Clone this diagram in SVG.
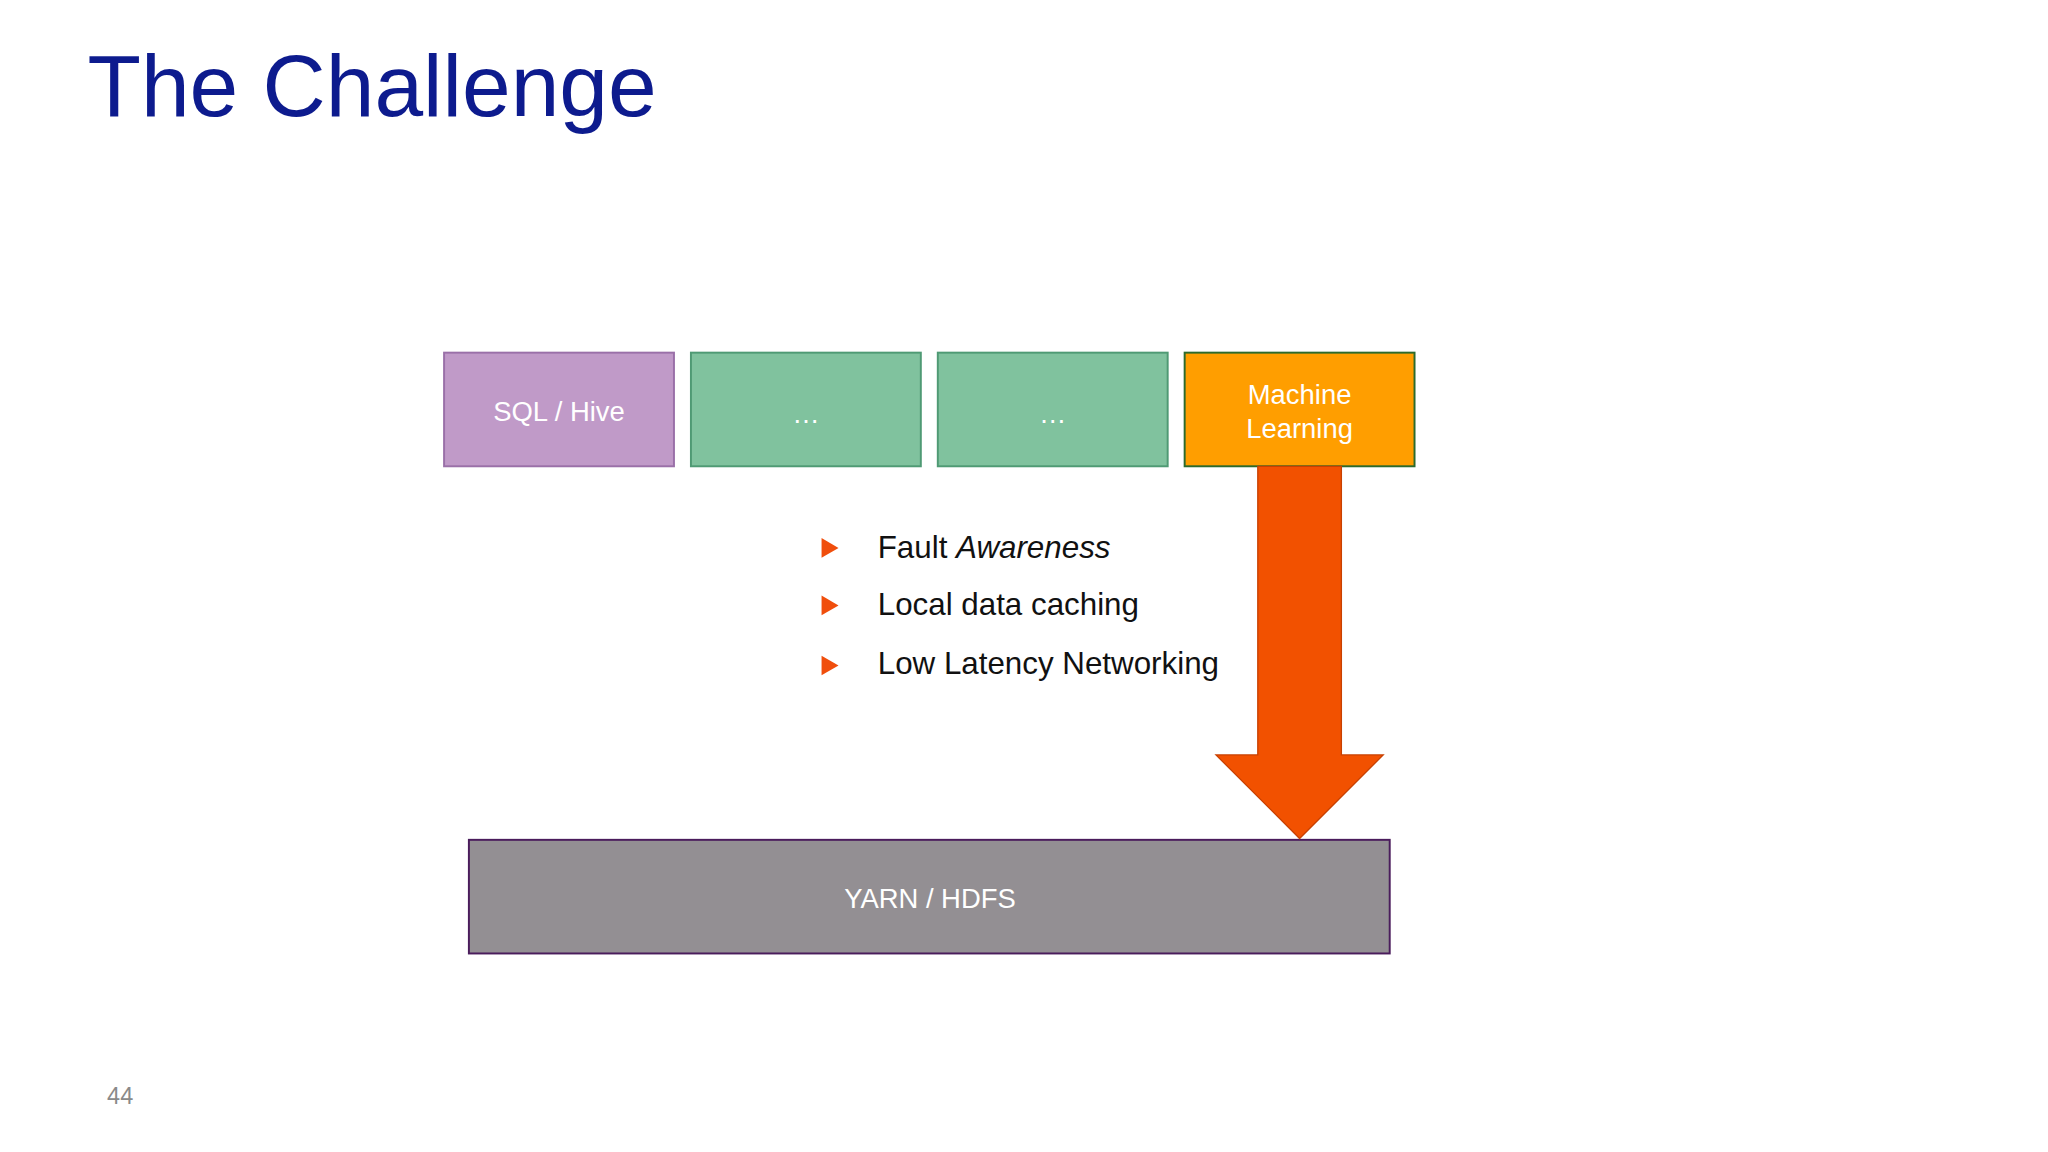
<svg xmlns="http://www.w3.org/2000/svg" width="2048" height="1152" viewBox="0 0 2048 1152">
<style>
.lbl{font-family:"Liberation Sans",Arial,sans-serif;font-size:21px;fill:#fff;text-anchor:middle}
.bt{font-family:"Liberation Sans",Arial,sans-serif;font-size:24px;fill:#111}
.tri{fill:#f04e0c}
</style>
<rect width="2048" height="1152" fill="#ffffff"/>
<g transform="scale(1.30612)">
<text x="67" y="89" font-family="Liberation Sans,Arial,sans-serif" font-size="67" fill="#0d1b8e">The Challenge</text>
<g id="sql"><rect x="340" y="270" width="176" height="87" fill="#c09ac8" stroke="#9a70a8" stroke-width="1.5"/><text class="lbl" x="428" y="322">SQL / Hive</text></g>
<g id="dots1"><rect x="529" y="270" width="176" height="87" fill="#80c29e" stroke="#4f9a74" stroke-width="1.5"/><text class="lbl" x="617" y="324">…</text></g>
<g id="dots2"><rect x="718" y="270" width="176" height="87" fill="#80c29e" stroke="#4f9a74" stroke-width="1.5"/><text class="lbl" x="806" y="324">…</text></g>
<g id="ml"><rect x="907" y="270" width="176" height="87" fill="#ff9e00" stroke="#2c6a2c" stroke-width="1.5"/><text class="lbl" x="995" y="309">Machine</text><text class="lbl" x="995" y="335">Learning</text></g>
<g id="yarn"><rect x="359" y="643" width="705" height="87" fill="#938f93" stroke="#4a1c5c" stroke-width="1.5"/><text class="lbl" x="712" y="695">YARN / HDFS</text></g>
<g id="connectors"><path d="M963 357 H1027 V578 H1059 L995 642 L931 578 H963 Z" fill="#f25100" stroke="#c84000" stroke-width="1"/></g>
<g id="bullets">
<path class="tri" d="M629 412 L642 419.5 L629 427 Z"/>
<path class="tri" d="M629 456 L642 463.5 L629 471 Z"/>
<path class="tri" d="M629 502 L642 509.5 L629 517 Z"/>
<text class="bt" x="672" y="427">Fault <tspan font-style="italic">Awareness</tspan></text>
<text class="bt" x="672" y="471">Local data caching</text>
<text class="bt" x="672" y="516">Low Latency Networking</text>
</g>
<text x="82" y="845" font-family="Liberation Sans,Arial,sans-serif" font-size="18" fill="#8a8a8a">44</text>
</g>
</svg>
